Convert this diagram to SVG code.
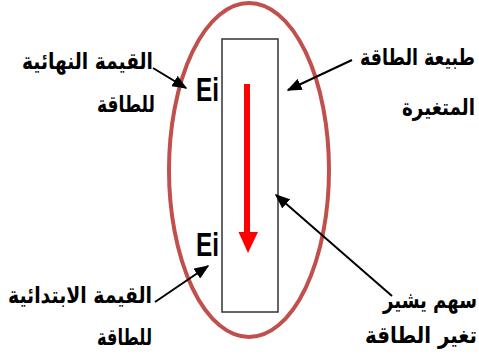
<svg xmlns="http://www.w3.org/2000/svg" width="479" height="361" viewBox="0 0 479 361">
<defs>
<style>
.lbl{font-family:"DejaVu Sans",sans-serif;font-weight:bold;font-size:23px;fill:#000;}
.ei{font-family:"Liberation Sans",Arial,sans-serif;font-weight:bold;font-size:34px;fill:#000;}
.con{stroke:#000;stroke-width:2;fill:none;}
</style>
<marker id="ah" viewBox="0 0 10 10" refX="9" refY="5" markerWidth="15" markerHeight="12" markerUnits="userSpaceOnUse" orient="auto" preserveAspectRatio="none">
<path d="M0,0 L10,5 L0,10 z" fill="#000"/>
</marker>
</defs>
<rect width="479" height="361" fill="#fff"/>
<g id="ellipse">
<ellipse cx="249" cy="170" rx="80" ry="167" fill="none" stroke="#c0504d" stroke-width="4"/>
</g>
<g id="bar">
<rect x="222" y="39" width="56" height="273" fill="#fff" stroke="#333" stroke-width="1.5"/>
</g>
<g id="redArrow">
<line x1="247" y1="84" x2="247" y2="234" stroke="#f00" stroke-width="6"/>
<path d="M238.5,232 L258,232 L248,253 z" fill="#f00"/>
</g>
<g id="eiTop"><text class="ei" x="196" y="101" textLength="23" lengthAdjust="spacingAndGlyphs">Ei</text></g>
<g id="eiBottom"><text class="ei" x="196" y="256" textLength="23" lengthAdjust="spacingAndGlyphs">Ei</text></g>
<g id="labelFinal">
<text class="lbl" x="22" y="69" textLength="131" lengthAdjust="spacingAndGlyphs">القيمة النهائية</text>
<text class="lbl" x="97" y="112" textLength="58" lengthAdjust="spacingAndGlyphs">للطاقة</text>
</g>
<g id="labelNature">
<text class="lbl" x="360" y="65" textLength="115" lengthAdjust="spacingAndGlyphs">طبيعة الطاقة</text>
<text class="lbl" x="402" y="115" textLength="73" lengthAdjust="spacingAndGlyphs">المتغيرة</text>
</g>
<g id="labelInitial">
<text class="lbl" x="8" y="303" textLength="144" lengthAdjust="spacingAndGlyphs">القيمة الابتدائية</text>
<text class="lbl" x="97" y="345" textLength="55" lengthAdjust="spacingAndGlyphs">للطاقة</text>
</g>
<g id="labelArrow">
<text class="lbl" x="383" y="308" textLength="94" lengthAdjust="spacingAndGlyphs">سهم يشير</text>
<text class="lbl" x="365" y="343" textLength="112" lengthAdjust="spacingAndGlyphs">تغير الطاقة</text>
</g>
<g id="connectors">
<line class="con" x1="153" y1="68" x2="186" y2="88" marker-end="url(#ah)"/>
<line class="con" x1="352" y1="60" x2="288" y2="90" marker-end="url(#ah)"/>
<line class="con" x1="155" y1="302" x2="208" y2="266" marker-end="url(#ah)"/>
<line class="con" x1="392" y1="296" x2="276" y2="195" marker-end="url(#ah)"/>
</g>
</svg>
